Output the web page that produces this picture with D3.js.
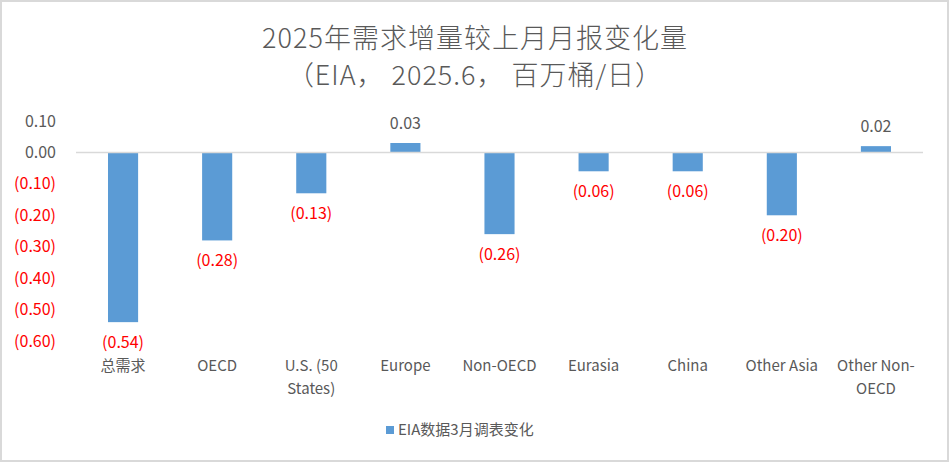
<!DOCTYPE html>
<html>
<head>
<meta charset="utf-8">
<script src="https://cdn.jsdelivr.net/npm/d3@7"></script>
<style>
  body { margin: 0; background: #fff; }
  svg { display: block; font-family: "Noto Sans CJK SC", "Noto Sans", sans-serif; }
</style>
</head>
<body>
<div id="chart"></div>
<script>
const categories = ["总需求", "OECD", "U.S. (50 States)", "Europe", "Non-OECD", "Eurasia", "China", "Other Asia", "Other Non-OECD"];
const values = [-0.54, -0.28, -0.13, 0.03, -0.26, -0.06, -0.06, -0.20, 0.02];
const yTicks = [0.1, 0, -0.1, -0.2, -0.3, -0.4, -0.5, -0.6];
const seriesName = "EIA数据3月调表变化";
const titleLines = ["2025年需求增量较上月月报变化量", "（EIA， 2025.6， 百万桶/日）"];

function draw() {
  const width = 949;
  const height = 462;
  const grey = "#595959";
  const red = "#ff0000";
  const fmt = v => {
    const s = Math.abs(v).toFixed(2);
    return v < 0 ? `(${s})` : s;
  };

  const svg = d3.select("#chart")
    .append("svg")
    .attr("width", width)
    .attr("height", height);

  // chart border
  svg.append("rect")
    .attr("x", 1).attr("y", 1)
    .attr("width", width - 2).attr("height", height - 2)
    .attr("fill", "#fff")
    .attr("stroke", "#d9d9d9")
    .attr("stroke-width", 2);

  const x = d3.scaleBand()
    .domain(categories)
    .range([76, 923])
    .paddingInner(0.68)
    .paddingOuter(0.34);

  const y = d3.scaleLinear()
    .domain([-0.6, 0.1])
    .range([341, 121]);

  // title
  svg.append("g")
    .selectAll("text")
    .data(titleLines)
    .join("text")
    .attr("x", 475)
    .attr("y", (d, i) => 38 + i * 37)
    .attr("dy", "0.36em")
    .attr("text-anchor", "middle")
    .attr("fill", grey)
    .attr("font-size", 27)
    .attr("font-weight", 300)
    .attr("letter-spacing", 1)
    .text(d => d);

  // y axis labels
  svg.append("g")
    .selectAll("text")
    .data(yTicks)
    .join("text")
    .attr("x", 56)
    .attr("y", d => y(d))
    .attr("dy", "0.35em")
    .attr("text-anchor", "end")
    .attr("font-size", 16)
    .attr("fill", d => d < 0 ? red : grey)
    .text(d => fmt(d));

  // bars
  svg.append("g")
    .selectAll("rect")
    .data(values)
    .join("rect")
    .attr("x", (d, i) => x(categories[i]))
    .attr("width", x.bandwidth())
    .attr("y", d => y(Math.max(0, d)))
    .attr("height", d => Math.abs(y(d) - y(0)))
    .attr("fill", "#5b9bd5");

  // zero line
  svg.append("line")
    .attr("x1", 76).attr("x2", 923)
    .attr("y1", y(0)).attr("y2", y(0))
    .attr("stroke", "#d9d9d9")
    .attr("stroke-width", 1.5);

  // value labels
  svg.append("g")
    .selectAll("text")
    .data(values)
    .join("text")
    .attr("x", (d, i) => x(categories[i]) + x.bandwidth() / 2)
    .attr("y", d => d < 0 ? y(d) + 20 : y(d) - 20)
    .attr("dy", "0.35em")
    .attr("text-anchor", "middle")
    .attr("font-size", 16)
    .attr("fill", d => d < 0 ? red : grey)
    .text(d => fmt(d));

  // category labels, wrapped to the band
  const maxW = 90;
  const labels = svg.append("g")
    .selectAll("text")
    .data(categories)
    .join("text")
    .attr("x", d => x(d) + x.bandwidth() / 2)
    .attr("y", 366)
    .attr("dy", "0.35em")
    .attr("text-anchor", "middle")
    .attr("font-size", 15)
    .attr("fill", grey);

  labels.each(function(d) {
    const el = d3.select(this);
    const tokens = d.split(/(?<=[ -])/);
    const lines = [];
    let cur = "";
    const probe = el.append("tspan");
    for (const t of tokens) {
      const test = cur + t;
      probe.text(test.trim());
      if (cur && probe.node().getComputedTextLength() > maxW) {
        lines.push(cur.trim());
        cur = t;
      } else {
        cur = test;
      }
    }
    lines.push(cur.trim());
    probe.remove();
    el.selectAll("tspan")
      .data(lines)
      .join("tspan")
      .attr("x", x(d) + x.bandwidth() / 2)
      .attr("dy", (l, i) => i === 0 ? "0.35em" : 23)
      .text(l => l);
  });

  // legend
  const legend = svg.append("g").attr("transform", "translate(386,430)");
  legend.append("rect")
    .attr("x", 0).attr("y", -4)
    .attr("width", 8).attr("height", 8)
    .attr("fill", "#5b9bd5");
  legend.append("text")
    .attr("x", 12)
    .attr("dy", "0.35em")
    .attr("font-size", 15)
    .attr("fill", grey)
    .text(seriesName);
}
draw();
</script>
</body>
</html>
